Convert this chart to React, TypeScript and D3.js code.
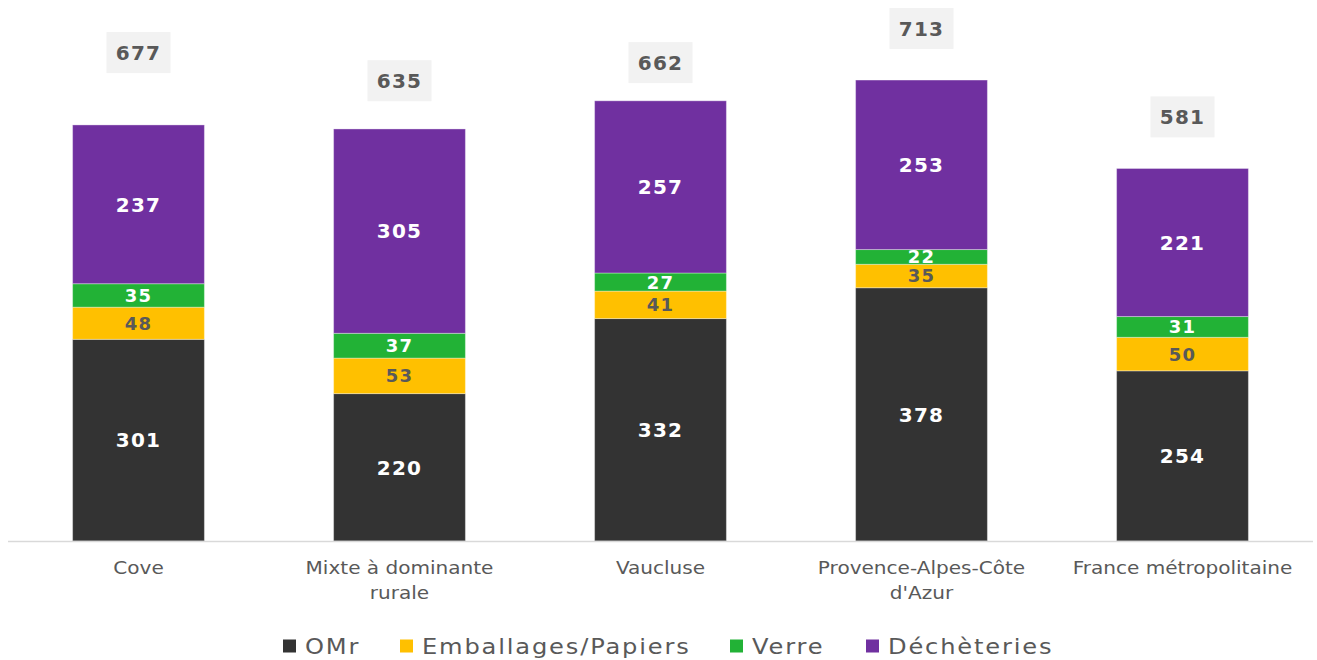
import React from "react";
import * as d3 from "d3";

const categories = ["Cove", "Mixte à dominante\nrurale", "Vaucluse", "Provence-Alpes-Côte\nd'Azur", "France métropolitaine"];
const seriesNames = ["OMr", "Emballages/Papiers", "Verre", "Déchèteries"];
const omr = [301, 220, 332, 378, 254];
const emballages = [48, 53, 41, 35, 50];
const verre = [35, 37, 27, 22, 31];
const decheteries = [237, 305, 257, 253, 221];
const totals = [677, 635, 662, 713, 581];
const colors = ["#333333", "#FFC000", "#22B236", "#7030A0"];
const labelColors = ["#ffffff", "#595959", "#ffffff", "#ffffff"];

const W = 1317;
const H = 660;
const FONT = "'DejaVu Sans', Verdana, sans-serif";

export default function App() {
  const x = d3.scaleBand().domain(categories).range([8, 1313]).paddingInner(0.495).paddingOuter(0.2475);
  const y = d3.scaleLinear().domain([0, 800]).range([541, 541 - 800 * 0.67]);
  const rows = categories.map((c, i) => ({
    cat: c,
    OMr: omr[i],
    "Emballages/Papiers": emballages[i],
    Verre: verre[i],
    "Déchèteries": decheteries[i],
  }));
  const stacked = d3.stack<any>().keys(seriesNames)(rows);
  const legendX = [283, 400, 730, 866];

  return (
    <svg width={W} height={H} style={{ position: "absolute", left: 0, top: 0, background: "#fff" }} fontFamily={FONT}>
      {stacked.map((s, si) =>
        s.map((d, i) => (
          <rect
            key={`r${si}-${i}`}
            x={x(categories[i])}
            y={y(d[1])}
            width={x.bandwidth()}
            height={y(d[0]) - y(d[1])}
            fill={colors[si]}
            stroke="#ffffff"
            strokeOpacity={0.35}
            strokeWidth={1}
          />
        ))
      )}
      {stacked.map((s, si) =>
        s.map((d, i) => (
          <text
            key={`t${si}-${i}`}
            x={(x(categories[i]) as number) + x.bandwidth() / 2}
            y={(y(d[0]) + y(d[1])) / 2}
            dy="0.36em"
            textAnchor="middle"
            fontSize={si === 1 || si === 2 ? 18 : 20}
            letterSpacing={1.2}
            fontWeight="bold"
            fill={labelColors[si]}
          >
            {d[1] - d[0]}
          </text>
        ))
      )}
      <line x1={8} x2={1313} y1={y(0) + 0.5} y2={y(0) + 0.5} stroke="#d9d9d9" strokeWidth={1.5} />
      {totals.map((t, i) => {
        const cx = (x(categories[i]) as number) + x.bandwidth() / 2;
        const cy = y(t + 52);
        return (
          <g key={`tot${i}`}>
            <rect x={cx - 32} y={cy - 20.5} width={64} height={41} fill="#f2f2f2" />
            <text x={cx} y={cy} dy="0.36em" textAnchor="middle" fontSize={20} letterSpacing={1.2} fontWeight="bold" fill="#595959">
              {t}
            </text>
          </g>
        );
      })}
      {categories.map((c, i) => {
        const cx = (x(c) as number) + x.bandwidth() / 2;
        return (
          <text key={`c${i}`} transform={`translate(${cx},0) scale(1.18,1)`} textAnchor="middle" fontSize={17} fill="#595959">
            {c.split("\n").map((line, li) => (
              <tspan key={li} x={0} y={574 + li * 25}>
                {line}
              </tspan>
            ))}
          </text>
        );
      })}
      {seriesNames.map((n, i) => (
        <g key={`l${i}`} transform={`translate(${legendX[i]},646)`}>
          <rect x={0} y={-6.5} width={13} height={13} fill={colors[i]} />
          <text transform="translate(22,0) scale(1.15,1)" x={0} y={0} dy="0.36em" fontSize={21} letterSpacing={1.6} fill="#595959">
            {n}
          </text>
        </g>
      ))}
    </svg>
  );
}
